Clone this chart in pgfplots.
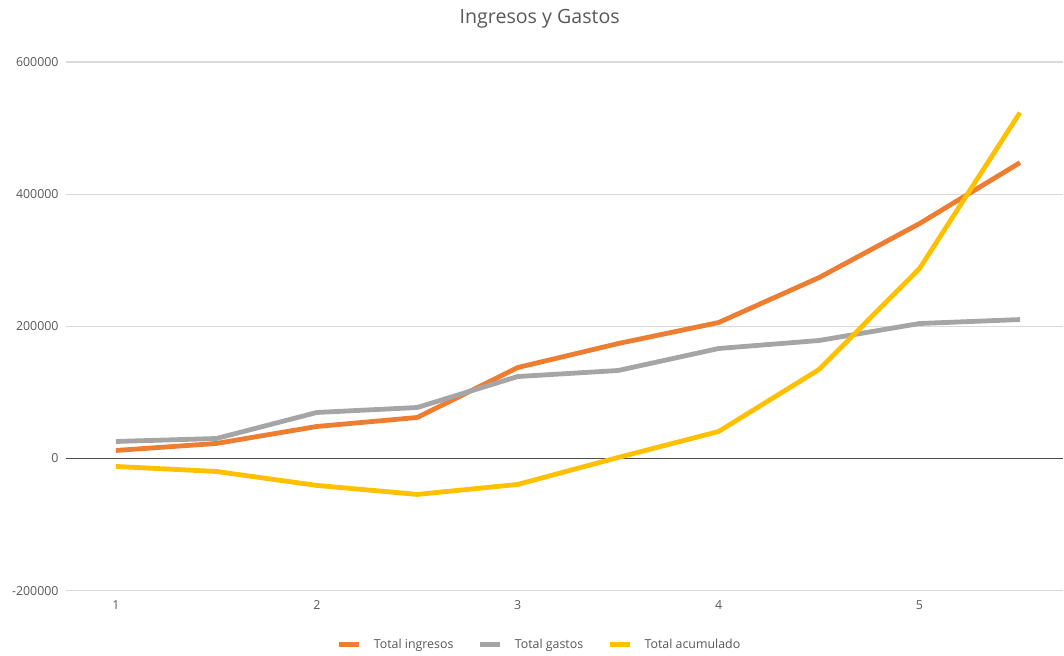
\documentclass[border=0pt]{standalone}
\usepackage{fontspec}
\setmainfont{Open Sans}
\usepackage{pgfplots}
\pgfplotsset{compat=1.18}
\definecolor{cOr}{HTML}{ED7D31}
\definecolor{cGr}{HTML}{A5A5A5}
\definecolor{cYe}{HTML}{FFC000}
\definecolor{cTx}{HTML}{595959}
\definecolor{cGrid}{HTML}{D9D9D9}
\begin{document}
\begin{tikzpicture}
\begin{axis}[
  scale only axis,
  width=748.5pt, height=396.75pt,
  xmin=0.751, xmax=5.716,
  ymin=-200000, ymax=600000,
  xtick={1,2,3,4,5},
  ytick={-200000,0,200000,400000,600000},
  scaled y ticks=false,
  /pgf/number format/.cd, fixed, 1000 sep={}, assume math mode=true,
  /pgfplots/.cd,
  axis line style={draw=none},
  major tick length=0pt,
  ymajorgrids,
  grid style={cGrid, line width=0.9pt},
  extra y ticks={0},
  extra y tick labels={},
  extra y tick style={grid style={color=black!70, line width=1pt}},
  ticklabel style={font=\fontsize{9.3}{11}\selectfont, color=cTx},
  yticklabel style={xshift=-2pt},
  xticklabel style={yshift=-4pt},
  title={Ingresos y Gastos},
  title style={font=\fontsize{14.7}{17}\selectfont, color=cTx, at={(0.475,1.066)}, anchor=center},
  legend columns=3,
  legend style={at={(0.475,-0.102)}, anchor=center, draw=none, font=\fontsize{9.3}{11}\selectfont, text=cTx,
    /tikz/every odd column/.append style={column sep=7pt},
    /tikz/every even column/.append style={column sep=16pt}},
  legend image code/.code={\draw[#1, line width=4pt] (0pt,0pt) -- (15pt,0pt);},
  clip=false,
]
\addplot[cOr, line width=3.6pt, line join=round] coordinates {
 (1,12100) (1.5,22700) (2,48400) (2.5,62000) (3,137600) (3.5,173900) (4,205700) (4.5,273700) (5,355400) (5.5,447600)};
\addlegendentry{Total ingresos}
\addplot[cGr, line width=3.6pt, line join=round] coordinates {
 (1,25700) (1.5,30200) (2,69600) (2.5,77100) (3,124000) (3.5,133100) (4,166400) (4.5,178500) (5,204200) (5.5,210200)};
\addlegendentry{Total gastos}
\addplot[cYe, line width=3.6pt, line join=round] coordinates {
 (1,-12100) (1.5,-19700) (2,-40800) (2.5,-54400) (3,-39300) (3.5,1500) (4,40800) (4.5,134600) (5,287300) (5.5,523300)};
\addlegendentry{Total acumulado}
\path (rel axis cs:-0.0661,-0.1172) rectangle (rel axis cs:1,1.1172);
\end{axis}
\end{tikzpicture}
\end{document}
